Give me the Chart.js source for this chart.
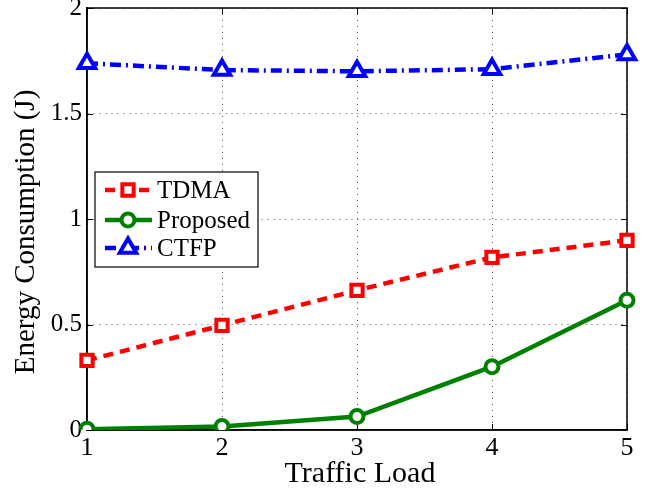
<!DOCTYPE html>
<html>
<head>
<meta charset="utf-8">
<script src="https://cdn.jsdelivr.net/npm/chart.js@4/dist/chart.umd.min.js"></script>
<style>
html,body{margin:0;padding:0;background:#fff;}
#wrap{width:656px;height:493px;position:relative;}
</style>
</head>
<body>
<div id="wrap"><canvas id="c" width="656" height="493"></canvas></div>
<script>
const categories = ['1', '2', '3', '4', '5'];
const tdma = [0.33, 0.496, 0.662, 0.818, 0.899];
const proposed = [0.004, 0.017, 0.064, 0.30, 0.615];
const ctfp = [1.738, 1.706, 1.700, 1.710, 1.780];
const yTicks = [0, 0.5, 1, 1.5, 2];
const seriesNames = ['TDMA', 'Proposed', 'CTFP'];
const xTitle = 'Traffic Load';
const yTitle = 'Energy Consumption (J)';

const FONT = "'Liberation Serif', 'Times New Roman', serif";

function drawMarker(ctx, style, r, x, y) {
  if (style === 'rect') {
    const s = Math.SQRT1_2 * r;
    ctx.rect(x - s, y - s, 2 * s, 2 * s);
  } else if (style === 'circle') {
    ctx.arc(x, y, r, 0, Math.PI * 2);
  } else if (style === 'triangle') {
    ctx.moveTo(x, y - r);
    ctx.lineTo(x + Math.sin(2 * Math.PI / 3) * r, y + r / 2);
    ctx.lineTo(x - Math.sin(2 * Math.PI / 3) * r, y + r / 2);
    ctx.closePath();
  }
}

// MATLAB-like frame: box and inward tick marks
const frame = {
  id: 'frame',
  beforeDatasetsDraw(chart) {
    const {ctx, chartArea: a, scales} = chart;
    ctx.save();
    ctx.strokeStyle = '#000';
    ctx.lineWidth = 1;
    const t = 6;
    ctx.beginPath();
    scales.y.ticks.forEach(tk => {
      const y = Math.round(scales.y.getPixelForValue(tk.value)) + 0.5;
      ctx.moveTo(a.left, y); ctx.lineTo(a.left + t, y);
      ctx.moveTo(a.right, y); ctx.lineTo(a.right - t, y);
    });
    for (let i = 0; i < categories.length; i++) {
      const x = Math.round(scales.x.getPixelForValue(i)) + 0.5;
      ctx.moveTo(x, a.bottom); ctx.lineTo(x, a.bottom - t);
      ctx.moveTo(x, a.top); ctx.lineTo(x, a.top + t);
    }
    ctx.stroke();
    ctx.lineWidth = 1.5;
    ctx.strokeRect(a.left, a.top, a.right - a.left, a.bottom - a.top);
    ctx.restore();
  }
};

// Nudge the axis titles to where the reference places them
const titleShift = {
  id: 'titleShift',
  afterLayout(chart) {
    const xs = chart.scales.x, ys = chart.scales.y;
    if (!xs._shifted) {
      const orig = xs.drawTitle.bind(xs);
      xs.drawTitle = function () {
        const ctx = this.ctx;
        ctx.save(); ctx.translate(3, 0); orig(); ctx.restore();
      };
      xs._shifted = true;
    }
    if (!ys._shifted) {
      const orig = ys.drawTitle.bind(ys);
      ys.drawTitle = function () {
        const ctx = this.ctx;
        ctx.save(); ctx.translate(0, 13); orig(); ctx.restore();
      };
      ys._shifted = true;
    }
  }
};

const legendBox = {
  id: 'legendBox',
  afterDraw(chart) {
    const {ctx, chartArea: a} = chart;
    const x0 = a.left + 8, y0 = a.top + 164, w = 163, h = 95;
    ctx.save();
    ctx.fillStyle = '#fff';
    ctx.fillRect(x0, y0, w, h);
    ctx.strokeStyle = '#000';
    ctx.lineWidth = 1.2;
    ctx.strokeRect(x0, y0, w, h);
    const rows = [y0 + 18, y0 + 48, y0 + 76];
    chart.data.datasets.forEach((ds, i) => {
      const y = rows[i];
      ctx.save();
      ctx.strokeStyle = ds.borderColor;
      ctx.lineWidth = ds.borderWidth;
      ctx.setLineDash(ds.borderDash || []);
      ctx.beginPath();
      ctx.moveTo(x0 + 10, y);
      ctx.lineTo(x0 + 57, y);
      ctx.stroke();
      ctx.restore();
      ctx.fillStyle = ds.pointBackgroundColor;
      ctx.strokeStyle = ds.borderColor;
      ctx.lineWidth = ds.pointBorderWidth;
      ctx.beginPath();
      drawMarker(ctx, ds.pointStyle, ds.pointRadius, x0 + 33, y);
      ctx.fill();
      ctx.stroke();
      ctx.fillStyle = '#000';
      ctx.font = '25px ' + FONT;
      ctx.textBaseline = 'middle';
      ctx.textAlign = 'left';
      ctx.fillText(ds.label, x0 + 62, y + 1);
    });
    ctx.restore();
  }
};

new Chart(document.getElementById('c'), {
  type: 'line',
  data: {
    labels: categories,
    datasets: [
      {
        label: seriesNames[0], data: tdma,
        borderColor: '#ff0000', backgroundColor: '#ff0000',
        borderWidth: 4.5, borderDash: [10, 7], borderCapStyle: 'butt',
        pointStyle: 'rect', pointRadius: 8, pointBorderWidth: 4,
        pointBackgroundColor: '#ffffff', pointBorderColor: '#ff0000',
        tension: 0
      },
      {
        label: seriesNames[1], data: proposed,
        borderColor: '#008000', backgroundColor: '#008000',
        borderWidth: 4.5,
        pointStyle: 'circle', pointRadius: 6.5, pointBorderWidth: 4,
        pointBackgroundColor: '#ffffff', pointBorderColor: '#008000',
        tension: 0
      },
      {
        label: seriesNames[2], data: ctfp,
        borderColor: '#0000ff', backgroundColor: '#0000ff',
        borderWidth: 4.5, borderDash: [11, 5, 2, 5], borderCapStyle: 'butt',
        pointStyle: 'triangle', pointRadius: 9.5, pointBorderWidth: 4,
        pointBackgroundColor: '#ffffff', pointBorderColor: '#0000ff',
        tension: 0
      }
    ]
  },
  options: {
    responsive: false,
    animation: false,
    devicePixelRatio: 1,
    layout: { autoPadding: false, padding: { top: 8, right: 29, left: 0, bottom: 0 } },
    plugins: { legend: { display: false }, tooltip: { enabled: false } },
    scales: {
      x: {
        type: 'category',
        offset: false,
        grid: { display: true, drawTicks: false, color: '#555', lineWidth: 1 },
        border: { display: true, color: '#000', width: 1.5, dash: [1, 5] },
        ticks: { color: '#000', padding: 3, font: { family: FONT, size: 26 }, maxRotation: 0 },
        title: { display: true, text: xTitle, color: '#000', font: { family: FONT, size: 30 }, padding: { top: 0, bottom: 1 } },
        afterFit(s) { s.height = 63; }
      },
      y: {
        min: 0, max: 2,
        afterBuildTicks(s) { s.ticks = yTicks.map(v => ({ value: v })); },
        grid: { display: true, drawTicks: false, color: '#555', lineWidth: 1 },
        border: { display: true, color: '#000', width: 1.5, dash: [1, 5] },
        ticks: { color: '#000', padding: 5, font: { family: FONT, size: 25 },
          callback: v => String(v) },
        title: { display: true, text: yTitle, color: '#000', font: { family: FONT, size: 29 }, padding: { top: 8.8, bottom: 0 } },
        afterFit(s) { s.width = 87; s.paddingTop = 0; s.paddingBottom = 0; }
      }
    }
  },
  plugins: [frame, titleShift, legendBox]
});
</script>
</body>
</html>
